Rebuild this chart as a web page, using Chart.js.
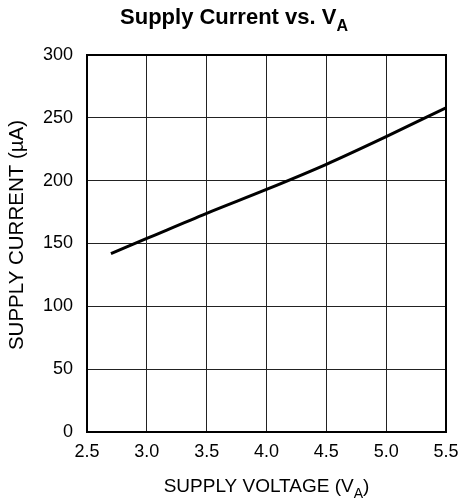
<!DOCTYPE html>
<html lang="en">
<head>
<meta charset="UTF-8">
<title>Supply Current vs. VA</title>
<script src="https://cdn.jsdelivr.net/npm/chart.js"></script>
<style>
  html, body { margin: 0; padding: 0; background: #fff; }
  #wrap { width: 462px; height: 502px; }
</style>
</head>
<body>
<div id="wrap"><canvas id="chart" width="462" height="502"></canvas></div>
<script>
// values
const supplyVoltage = [2.7, 3.0, 3.5, 4.0, 4.5, 5.0, 5.5];
const supplyCurrent = [142, 154, 174, 193, 213, 235, 258];
const xTicks = [2.5, 3.0, 3.5, 4.0, 4.5, 5.0, 5.5];
const yTicks = [0, 50, 100, 150, 200, 250, 300];

const FONT = '"Liberation Sans", Arial, sans-serif';

// draws text with a subscript tail, e.g. ['SUPPLY VOLTAGE (V', 'A', ')']
function drawSubText(ctx, parts, size, bold, cx, cy) {
  const w = bold ? 'bold ' : '';
  const big = w + size + 'px ' + FONT;
  const small = w + Math.round(size * 0.72) + 'px ' + FONT;
  ctx.font = big;
  const w0 = ctx.measureText(parts[0]).width;
  const w2 = parts[2] ? ctx.measureText(parts[2]).width : 0;
  ctx.font = small;
  const w1 = ctx.measureText(parts[1]).width;
  let x = cx - (w0 + w1 + w2) / 2;
  ctx.textAlign = 'left';
  ctx.textBaseline = 'middle';
  ctx.font = big;
  ctx.fillText(parts[0], x, cy);
  x += w0;
  ctx.font = small;
  ctx.fillText(parts[1], x, cy + size * 0.38);
  x += w1;
  if (parts[2]) {
    ctx.font = big;
    ctx.fillText(parts[2], x, cy);
  }
}

const labelsPlugin = {
  id: 'labels',
  afterDraw(chart) {
    const ctx = chart.ctx;
    const area = chart.chartArea;
    ctx.save();
    ctx.fillStyle = '#000';
    drawSubText(ctx, ['Supply Current vs. V', 'A'], 22, true, 234, 18);
    drawSubText(ctx, ['SUPPLY VOLTAGE (V', 'A', ')'], 19, false, (area.left + area.right) / 2, 487);
    ctx.translate(17, 235);
    ctx.rotate(-Math.PI / 2);
    ctx.font = '20.5px ' + FONT;
    ctx.textAlign = 'center';
    ctx.textBaseline = 'middle';
    ctx.fillText('SUPPLY CURRENT (\u00b5A)', 0, 0);
    ctx.restore();
  }
};

new Chart(document.getElementById('chart'), {
  type: 'line',
  data: {
    datasets: [{
      data: supplyVoltage.map((v, i) => ({ x: v, y: supplyCurrent[i] })),
      borderColor: '#000',
      borderWidth: 3,
      pointRadius: 0,
      fill: false,
      cubicInterpolationMode: 'monotone'
    }]
  },
  options: {
    responsive: false,
    animation: false,
    layout: { padding: { top: 55, right: 16, left: 0, bottom: 0 } },
    plugins: {
      legend: { display: false },
      tooltip: { enabled: false },
      title: { display: false }
    },
    scales: {
      x: {
        type: 'linear',
        min: xTicks[0],
        max: xTicks[xTicks.length - 1],
        afterBuildTicks: s => { s.ticks = xTicks.map(v => ({ value: v })); },
        afterFit: s => { s.height = 70; s.paddingLeft = 0; s.paddingRight = 0; },
        ticks: {
          color: '#000',
          font: { family: FONT, size: 18 },
          padding: 9,
          maxRotation: 0,
          callback: v => v.toFixed(1)
        },
        grid: { color: '#222', lineWidth: 1, drawTicks: false },
        border: { color: '#000', width: 2 }
      },
      y: {
        min: yTicks[0],
        max: yTicks[yTicks.length - 1],
        afterBuildTicks: s => { s.ticks = yTicks.map(v => ({ value: v })); },
        afterFit: s => { s.width = 87; s.paddingTop = 0; s.paddingBottom = 0; },
        ticks: {
          color: '#000',
          font: { family: FONT, size: 18 },
          padding: 14
        },
        grid: { color: '#222', lineWidth: 1, drawTicks: false },
        border: { color: '#000', width: 2 }
      }
    }
  },
  plugins: [labelsPlugin, {
    id: 'frame',
    afterDatasetsDraw(chart) {
      const { ctx, chartArea: a } = chart;
      ctx.save();
      ctx.strokeStyle = '#000';
      ctx.lineWidth = 2;
      ctx.strokeRect(a.left, a.top, a.right - a.left, a.bottom - a.top);
      ctx.restore();
    }
  }]
});
</script>
</body>
</html>
